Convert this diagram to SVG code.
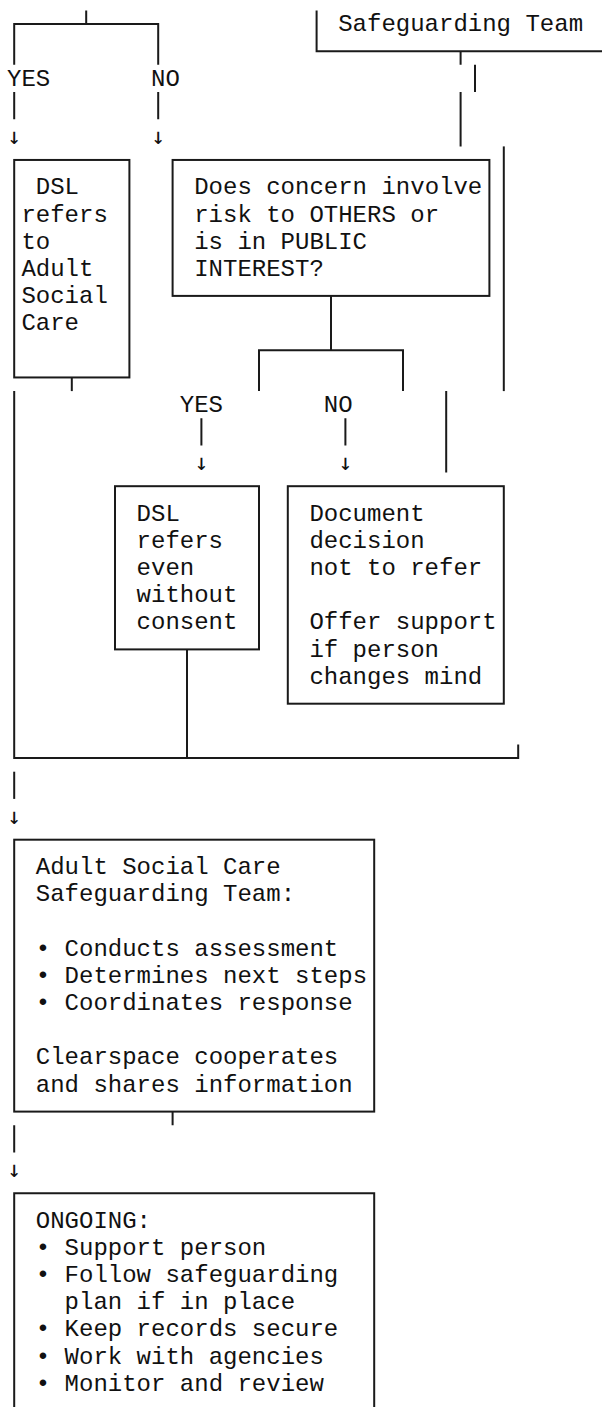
<svg xmlns="http://www.w3.org/2000/svg" width="602" height="1407" viewBox="0 0 602 1407">
<style>
.t{font-family:"Liberation Mono","Courier New",monospace;font-size:24px;fill:#111}
.a{font-family:"DejaVu Sans Mono","DejaVu Sans",monospace;font-size:23px;fill:#111;text-anchor:middle}
.ln{stroke:#1a1a1a;stroke-width:2;fill:none}
</style>
<rect width="602" height="1407" fill="#fff"/>
<g id="connectors" class="ln">
<path d="M86.2 10.4V24M14.2 64.8V24H158.2V64.8M14.2 92V119.2M158.2 92V119.2"/>
<path d="M460.6 51.2V64.8M475 64.8V92M460.6 92V146.4"/>
<path d="M503.8 146.4V391.1"/>
<path d="M71.8 377.5V391.1"/>
<path d="M331 295.9V350.3M259 391.1V350.3H403V391.1"/>
<path d="M446.2 391.1V472.6M201.4 418.3V445.5M345.4 418.3V445.5"/>
<path d="M14.2 391.1V758.1H518.2V744.5M187 649.4V758.1"/>
<path d="M14.2 771.7V798.9"/>
<path d="M172.6 1111.6V1125.2M14.2 1125.2V1152.4"/>
</g>
<g id="labels">
<text class="t" x="7" y="85.6">YES</text>
<text class="t" x="151" y="85.6">NO</text>
<text class="a" x="14.2" y="144">↓</text>
<text class="a" x="158.2" y="144">↓</text>
<text class="t" x="179.8" y="411.9">YES</text>
<text class="t" x="323.8" y="411.9">NO</text>
<text class="a" x="201.4" y="470.2">↓</text>
<text class="a" x="345.4" y="470.2">↓</text>
<text class="a" x="14.2" y="823.7">↓</text>
<text class="a" x="14.2" y="1177.2">↓</text>
</g>
<g id="safeguarding-team">
<path class="ln" d="M316.6 10.4V51.2H602"/>
<text class="t" x="338.2" y="31.2">Safeguarding Team</text>
</g>
<g id="dsl-refers-asc">
<rect class="ln" x="14.2" y="159.95" width="115.2" height="217.5"/>
<text class="t" x="35.8" y="194.3">DSL</text>
<text class="t" x="21.4" y="221.5">refers</text>
<text class="t" x="21.4" y="248.7">to</text>
<text class="t" x="21.4" y="275.9">Adult</text>
<text class="t" x="21.4" y="303.1">Social</text>
<text class="t" x="21.4" y="330.3">Care</text>
</g>
<g id="risk-question">
<rect class="ln" x="172.6" y="159.95" width="316.8" height="135.95"/>
<text class="t" x="194.2" y="194.3">Does concern involve</text>
<text class="t" x="194.2" y="221.5">risk to OTHERS or</text>
<text class="t" x="194.2" y="248.7">is in PUBLIC</text>
<text class="t" x="194.2" y="275.9">INTEREST?</text>
</g>
<g id="dsl-refers-without-consent">
<rect class="ln" x="115" y="486.2" width="144" height="163.2"/>
<text class="t" x="136.6" y="520.6">DSL</text>
<text class="t" x="136.6" y="547.8">refers</text>
<text class="t" x="136.6" y="575">even</text>
<text class="t" x="136.6" y="602.2">without</text>
<text class="t" x="136.6" y="629.4">consent</text>
</g>
<g id="document-decision">
<rect class="ln" x="287.8" y="486.2" width="216" height="217.5"/>
<text class="t" x="309.4" y="520.6">Document</text>
<text class="t" x="309.4" y="547.8">decision</text>
<text class="t" x="309.4" y="575">not to refer</text>
<text class="t" x="309.4" y="629.4">Offer support</text>
<text class="t" x="309.4" y="656.6">if person</text>
<text class="t" x="309.4" y="683.8">changes mind</text>
</g>
<g id="asc-safeguarding-team">
<rect class="ln" x="14.2" y="839.7" width="360" height="271.9"/>
<text class="t" x="35.8" y="874.1">Adult Social Care</text>
<text class="t" x="35.8" y="901.3">Safeguarding Team:</text>
<text class="t" x="35.8" y="955.7">• Conducts assessment</text>
<text class="t" x="35.8" y="982.9">• Determines next steps</text>
<text class="t" x="35.8" y="1010">• Coordinates response</text>
<text class="t" x="35.8" y="1064.4">Clearspace cooperates</text>
<text class="t" x="35.8" y="1091.6">and shares information</text>
</g>
<g id="ongoing">
<path class="ln" d="M14.2 1410V1193.2H374.2V1410"/>
<text class="t" x="35.8" y="1227.6">ONGOING:</text>
<text class="t" x="35.8" y="1254.8">• Support person</text>
<text class="t" x="35.8" y="1281.9">• Follow safeguarding</text>
<text class="t" x="64.6" y="1309.1">plan if in place</text>
<text class="t" x="35.8" y="1336.3">• Keep records secure</text>
<text class="t" x="35.8" y="1363.5">• Work with agencies</text>
<text class="t" x="35.8" y="1390.7">• Monitor and review</text>
</g>
</svg>
